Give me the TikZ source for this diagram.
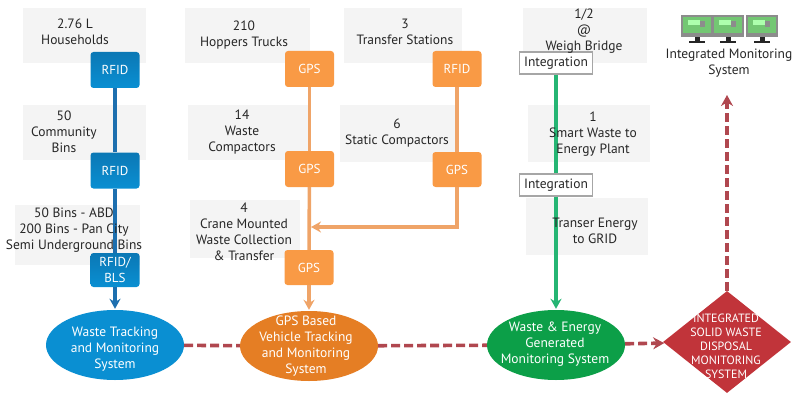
\documentclass[tikz,border=0pt]{standalone}
\usepackage{fontspec}
\setmainfont{PT Sans}
\usetikzlibrary{arrows.meta,shapes.geometric}

\definecolor{greybox}{HTML}{F4F4F4}
\definecolor{bluechip}{HTML}{0A8FD2}
\definecolor{bluedark}{HTML}{0B78B5}
\definecolor{blueline}{HTML}{1D6FAF}
\definecolor{orangechip}{HTML}{F99A45}
\definecolor{orangeline}{HTML}{EFA468}
\definecolor{orangeoval}{HTML}{E57E24}
\definecolor{greenoval}{HTML}{0C9F48}
\definecolor{greenline}{HTML}{25B573}
\definecolor{redbox}{HTML}{C1343A}
\definecolor{redline}{HTML}{B0474F}
\definecolor{labelgrey}{HTML}{262626}

\tikzset{
    labeltext/.style={align=center, text=labelgrey, font=\fontsize{13.5}{16}\selectfont, inner sep=0pt},
    whitetext/.style={align=center, text=white, font=\fontsize{13.5}{16}\selectfont, inner sep=0pt},
    chip/.style={rounded corners=3pt, minimum width=49pt, inner sep=0pt, align=center, text=white,
        font=\fontsize{13}{16}\selectfont},
    bluechipbox/.style={chip, top color=bluedark, bottom color=bluechip},
    orangechipbox/.style={chip, fill=orangechip},
    oval/.style={ellipse, minimum width=138pt, minimum height=70pt, inner sep=0pt},
    intbox/.style={draw=black!35, line width=1.4pt, fill=white, minimum width=73pt, minimum height=22pt,
        inner sep=0pt, text=labelgrey, font=\fontsize{13.5}{16}\selectfont},
    flow/.style={line width=3.6pt, -{Stealth[length=10pt,width=11pt]}},
    plainflow/.style={line width=3.6pt},
    monitorlink/.style={line width=3.6pt, redline, dash pattern=on 9pt off 4pt}
}

\begin{document}
\begin{tikzpicture}[x=1pt,y=-1pt]
\useasboundingbox (0,0) rectangle (794,393);

% Grey backgrounds
\foreach \name/\x/\y/\w/\h in {ga/84.5/35.5/123/55, gb/84.5/132.5/123/55, gc/77.5/235/125/60,
    gd/247.5/35.5/125/55, ge/249/132.5/122/55, gf/245/229/110/58,
    gg/403/35.5/118/55, gh/397.5/133.5/115/57, gi/585/35.5/124/55,
    gj/589/133.5/122/57, gk/587/226.5/122/57} {
    \node[fill=greybox, minimum width=\w pt, minimum height=\h pt, inner sep=0pt] (\name) at (\x,\y) {};
}

% Tags
\node[bluechipbox, minimum height=36pt] (rfidA) at (115,70) {RFID};
\node[bluechipbox, minimum height=36pt] (rfidB) at (115,170.5) {RFID};
\node[bluechipbox, minimum height=34pt] (rfidC) at (115,270) {RFID/\\BLS};
\node[orangechipbox, minimum height=36pt] (gpsA) at (309.5,69) {GPS};
\node[orangechipbox, minimum height=36pt] (gpsB) at (309.5,169) {GPS};
\node[orangechipbox, minimum height=35pt] (gpsC) at (309,267.5) {GPS};
\node[orangechipbox, minimum height=36pt] (rfidD) at (457,69) {RFID};
\node[orangechipbox, minimum height=35pt] (gpsD) at (457,169.5) {GPS};
\node[intbox] (intA) at (556,63) {Integration};
\node[intbox] (intB) at (556,185) {Integration};

% Monitoring systems
\node[oval, fill=bluechip] (waste) at (115,345) {};
\node[oval, fill=orangeoval] (vehicle) at (309,346) {};
\node[oval, fill=greenoval] (energy) at (556,345) {};
\node[diamond, fill=redbox, minimum width=128pt, minimum height=102pt, inner sep=0pt] (disposal) at (727,342) {};
\coordinate (screens) at (727,95);
\coordinate (crane) at (311,227);

% Connectors
\draw[plainflow, blueline] (rfidA) -- (rfidB);
\draw[plainflow, blueline] (rfidB) -- (rfidC);
\draw[flow, blueline, shorten >=1pt] (rfidC) -- (waste);
\draw[plainflow, orangeline] (gpsA) -- (gpsB);
\draw[plainflow, orangeline] (gpsB) -- (gpsC);
\draw[flow, orangeline, shorten >=1pt] (gpsC) -- (vehicle);
\draw[plainflow, orangeline] (rfidD) -- (gpsD);
\draw[flow, orangeline] (gpsD.south) |- (crane);
\draw[plainflow, greenline] (intA) -- (intB);
\draw[flow, greenline, shorten >=1pt] (intB) -- (energy);

\draw[monitorlink] (waste) -- (vehicle);
\draw[monitorlink] (vehicle) -- (energy);
\draw[monitorlink, -{Stealth[length=11pt,width=12pt]}] (energy) -- (disposal);
\draw[monitorlink, -{Stealth[length=11pt,width=12pt]}] (disposal) -- (screens);

% Labels
\node[labeltext] (labA) at (75,32) {2.76 L\\Households};
\node[labeltext] (labB) at (64,132) {50\\Community\\Bins};
\node[labeltext] (labC) at (74,230) {50 Bins - ABD\\200 Bins - Pan City\\Semi Underground Bins};
\node[labeltext] (labD) at (244,35) {210\\Hoppers Trucks};
\node[labeltext] (labE) at (242,132) {14\\Waste\\Compactors};
\node[labeltext] (labF) at (244,232) {4\\Crane Mounted\\Waste Collection\\\& Transfer};
\node[labeltext] (labG) at (405,32) {3\\Transfer Stations};
\node[labeltext] (labH) at (397,133) {6\\Static Compactors};
\node[labeltext] (labI) at (584,31) {1/2\\@\\Weigh Bridge};
\node[labeltext] (labJ) at (593,134) {1\\Smart Waste to\\Energy Plant};
\node[labeltext] (labK) at (595,231) {Transer Energy\\to GRID};
\node[labeltext] (labL) at (729,63) {Integrated Monitoring\\System};

\node[whitetext] (txtA) at (115,349) {Waste Tracking\\and Monitoring\\System};
\node[whitetext] (txtB) at (306,346) {GPS Based\\Vehicle Tracking\\and Monitoring\\System};
\node[whitetext] (txtC) at (555,344) {Waste \& Energy\\Generated\\Monitoring System};
\node[whitetext, font=\fontsize{12}{14}\selectfont] (txtD) at (726,346) {INTEGRATED\\SOLID WASTE\\DISPOSAL\\MONITORING\\SYSTEM};

% Monitors
\foreach \x in {697,728,762} {
    \fill[black!45] (\x-16,15) rectangle (\x+16,37);
    \fill[green!60!black!55] (\x-14,17) rectangle (\x+14,33);
    \fill[white!60!green!80] (\x-9,20) rectangle (\x+3,25);
    \fill[black!45] (\x+3,21) rectangle (\x+8,27);
    \fill[black!85] (\x-2.5,37) rectangle (\x+2.5,41);
    \fill[black!85] (\x-8,41) rectangle (\x+8,43);
}
\end{tikzpicture}
\end{document}
